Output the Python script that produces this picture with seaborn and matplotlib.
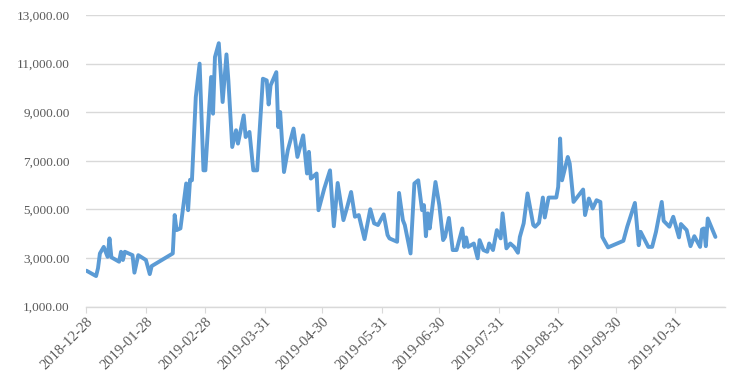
import pandas as pd
import numpy as np
import matplotlib
matplotlib.use('Agg')
import matplotlib.pyplot as plt
import matplotlib.dates as mdates
from matplotlib.ticker import FuncFormatter
import seaborn as sns

# ── dados ───────────────────────────────────────────────────
dates = [
    '2018-12-28', '2019-01-02', '2019-01-03', '2019-01-04', '2019-01-06', '2019-01-08',
    '2019-01-09', '2019-01-10', '2019-01-14', '2019-01-15', '2019-01-16', '2019-01-17',
    '2019-01-21', '2019-01-22', '2019-01-24', '2019-01-28', '2019-01-30', '2019-01-31',
    '2019-02-11', '2019-02-12', '2019-02-13', '2019-02-15', '2019-02-18', '2019-02-19',
    '2019-02-20', '2019-02-21', '2019-02-23', '2019-02-25', '2019-02-27', '2019-02-28',
    '2019-03-03', '2019-03-04', '2019-03-05', '2019-03-07', '2019-03-09', '2019-03-11',
    '2019-03-12', '2019-03-14', '2019-03-16', '2019-03-17', '2019-03-20', '2019-03-21',
    '2019-03-23', '2019-03-25', '2019-03-27', '2019-03-30', '2019-04-01', '2019-04-02',
    '2019-04-03', '2019-04-06', '2019-04-07', '2019-04-08', '2019-04-10', '2019-04-12',
    '2019-04-15', '2019-04-17', '2019-04-20', '2019-04-22', '2019-04-23', '2019-04-24',
    '2019-04-27', '2019-04-28', '2019-05-01', '2019-05-04', '2019-05-06', '2019-05-08',
    '2019-05-11', '2019-05-13', '2019-05-15', '2019-05-17', '2019-05-19', '2019-05-22',
    '2019-05-25', '2019-05-27', '2019-05-29', '2019-06-01', '2019-06-03', '2019-06-04',
    '2019-06-08', '2019-06-09', '2019-06-11', '2019-06-12', '2019-06-15', '2019-06-17',
    '2019-06-19', '2019-06-21', '2019-06-22', '2019-06-23', '2019-06-24', '2019-06-25',
    '2019-06-28', '2019-06-30', '2019-07-02', '2019-07-03', '2019-07-05', '2019-07-07',
    '2019-07-09', '2019-07-12', '2019-07-13', '2019-07-14', '2019-07-15', '2019-07-18',
    '2019-07-20', '2019-07-21', '2019-07-23', '2019-07-25', '2019-07-26', '2019-07-28',
    '2019-07-30', '2019-08-01', '2019-08-02', '2019-08-04', '2019-08-06', '2019-08-08',
    '2019-08-10', '2019-08-11', '2019-08-13', '2019-08-15', '2019-08-18', '2019-08-19',
    '2019-08-21', '2019-08-23', '2019-08-24', '2019-08-26', '2019-08-30', '2019-08-31',
    '2019-09-01', '2019-09-02', '2019-09-05', '2019-09-06', '2019-09-08', '2019-09-13',
    '2019-09-14', '2019-09-16', '2019-09-18', '2019-09-20', '2019-09-22', '2019-09-23',
    '2019-09-26', '2019-10-04', '2019-10-06', '2019-10-10', '2019-10-12', '2019-10-13',
    '2019-10-17', '2019-10-19', '2019-10-21', '2019-10-24', '2019-10-25', '2019-10-28',
    '2019-10-30', '2019-11-02', '2019-11-03', '2019-11-06', '2019-11-08', '2019-11-10',
    '2019-11-13', '2019-11-14', '2019-11-15', '2019-11-16', '2019-11-17', '2019-11-21',
]

values = [
    2480, 2260, 2580, 3190, 3460, 3050,
    3810, 3030, 2850, 3260, 2920, 3260,
    3120, 2400, 3120, 2920, 2340, 2670,
    3190, 4770, 4150, 4220, 6070, 4970,
    6220, 6200, 9620, 11000, 6610, 6610,
    10450, 8940, 11270, 11840, 9420, 11380,
    10310, 7570, 8260, 7710, 8870, 7980,
    8190, 6610, 6610, 10380, 10310, 9320,
    10100, 10650, 8390, 9010, 6540, 7440,
    8330, 7160, 8050, 6480, 7370, 6270,
    6480, 4970, 5860, 6610, 4310, 6090,
    4560, 5110, 5720, 4700, 4770, 3780,
    5010, 4430, 4360, 4800, 3950, 3810,
    3670, 5680, 4560, 4360, 3190, 6070,
    6200, 4970, 5180, 3900, 4840, 4220,
    6130, 5180, 3740, 3870, 4650, 3330,
    3330, 4220, 3460, 3850, 3460, 3600,
    2990, 3740, 3330, 3260, 3600, 3330,
    4150, 3810, 4840, 3400, 3600, 3460,
    3220, 3870, 4430, 5660, 4360, 4290,
    4450, 5490, 4670, 5490, 5490, 5930,
    7920, 6200, 7160, 6890, 5310, 5820,
    4770, 5450, 5040, 5380, 5310, 3870,
    3440, 3710, 4290, 5270, 3530, 4080,
    3460, 3460, 4080, 5310, 4530, 4290,
    4700, 3850, 4400, 4150, 3490, 3900,
    3460, 4180, 4220, 3490, 4630, 3870,
]

tick_dates = ['2018-12-28', '2019-01-28', '2019-02-28', '2019-03-31', '2019-04-30',
              '2019-05-31', '2019-06-30', '2019-07-31', '2019-08-31', '2019-09-30',
              '2019-10-31']
y_ticks = [1000, 3000, 5000, 7000, 9000, 11000, 13000]

df = pd.DataFrame({'data': pd.to_datetime(dates), 'valor': values})

# ── gráfico ─────────────────────────────────────────────────
sns.set_style('white')
plt.rcParams['font.family'] = ['Liberation Serif', 'DejaVu Serif']

fig = plt.figure(figsize=(7.43, 3.85), dpi=100)
ax = fig.add_axes([0.1164, 0.2034, 0.8594, 0.7576])

sns.lineplot(data=df, x='data', y='valor', ax=ax, color='#5B9BD5', linewidth=2.8)

ax.set_ylim(1000, 13000)
ax.set_yticks(y_ticks)
ax.yaxis.set_major_formatter(FuncFormatter(lambda v, p: f'{v:,.2f}'))
ax.grid(axis='y', color='#D9D9D9', linewidth=1)
ax.set_axisbelow(True)

ax.set_xlim(pd.Timestamp('2018-12-28'), pd.Timestamp('2019-11-26'))
ax.set_xticks(pd.to_datetime(tick_dates))
ax.xaxis.set_major_formatter(mdates.DateFormatter('%Y-%m-%d'))
for lab in ax.get_xticklabels():
    lab.set_rotation(45)
    lab.set_ha('right')
    lab.set_rotation_mode('anchor')

ax.tick_params(axis='x', labelsize=10.5, length=4, width=0.8,
               direction='out', bottom=True, color='#D9D9D9', pad=2)
ax.tick_params(axis='y', labelsize=9.5, length=0, pad=12)
for lab in ax.get_xticklabels() + ax.get_yticklabels():
    lab.set_color('#595959')

for s in ['top', 'right', 'left']:
    ax.spines[s].set_visible(False)
ax.spines['bottom'].set_color('#D9D9D9')
ax.spines['bottom'].set_linewidth(1)

ax.set_xlabel('')
ax.set_ylabel('')

plt.savefig('out.png', dpi=100)
